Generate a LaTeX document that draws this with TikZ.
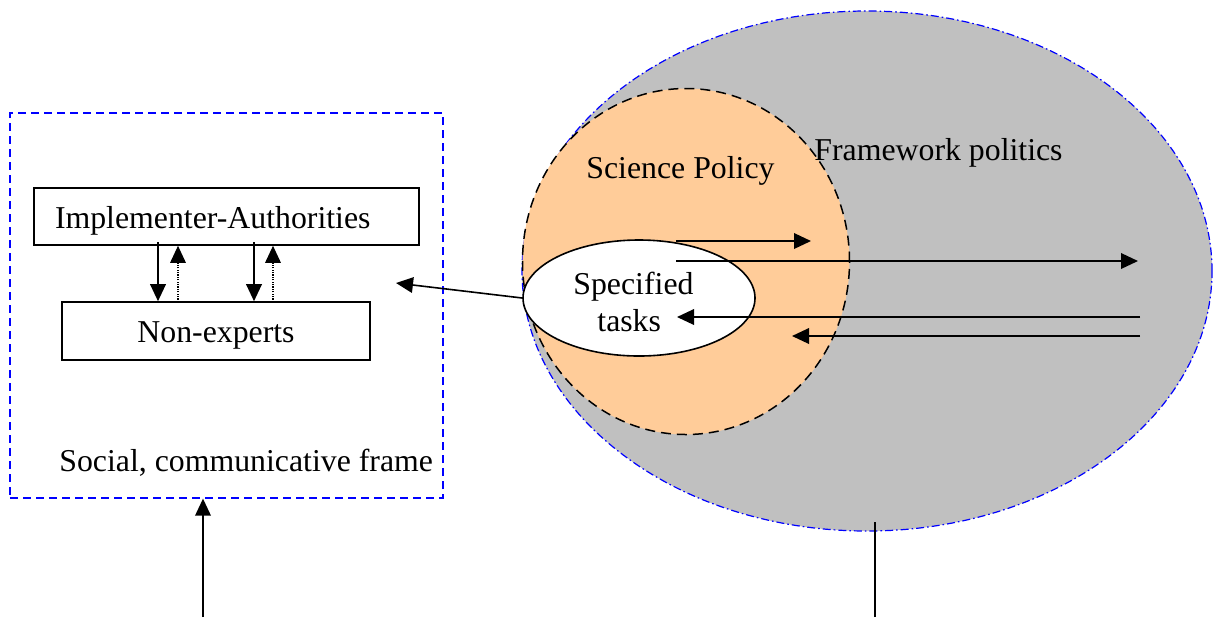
\documentclass[tikz,border=0pt]{standalone}
\usepackage{fontspec}
\setmainfont{Liberation Serif}
\usetikzlibrary{arrows.meta,shapes.geometric}

\definecolor{policyorange}{RGB}{255,204,153}
\definecolor{politicsgray}{RGB}{192,192,192}

\tikzset{
  lbl/.style={font=\fontsize{15.9}{19}\selectfont, inner sep=0pt, anchor=base west},
  frameline/.style={draw=blue, line width=0.65pt, dash pattern=on 4pt off 2.5pt},
  actorbox/.style={draw, line width=0.8pt, rectangle, inner sep=0pt,
                   font=\fontsize{15.9}{19}\selectfont},
  arr/.style={line width=0.8pt, -{Triangle[length=8.5pt,width=7.8pt]}},
  dotarr/.style={line width=0.6pt, dash pattern=on 0.6pt off 0.6pt,
                 -{Triangle[length=8.5pt,width=7.8pt]}},
  plainline/.style={line width=0.8pt}
}

\begin{document}
\begin{tikzpicture}[x=0.5pt,y=-0.5pt]
\useasboundingbox (0,0) rectangle (1213,617);

% social, communicative frame
\node[frameline, rectangle, inner sep=0pt, minimum width=216.5pt,
      minimum height=192.5pt] (frame) at (226.5,305.5) {};
\node[lbl] (framelbl) at (59,471.5) {Social, communicative frame};

% actors
\node[actorbox, minimum width=192.5pt, minimum height=28.5pt,
      text width=171.5pt, align=left, text height=12pt, text depth=0.5pt]
      (impl) at (226.5,216.5) {Implementer-Authorities};
\node[actorbox, minimum width=154pt, minimum height=29pt,
      text height=11.5pt, text depth=0.5pt]
      (nonexp) at (216,331) {Non-experts};

% exchanges between authorities and non-experts
\coordinate (down1) at (158,242);
\coordinate (down2) at (254,242);
\coordinate (up1) at (178,302);
\coordinate (up2) at (273,302);
\draw[arr] (down1) -- (down1 |- nonexp.north);
\draw[arr] (down2) -- (down2 |- nonexp.north);
\draw[dotarr] (up1) -- (up1 |- impl.south);
\draw[dotarr] (up2) -- (up2 |- impl.south);

% framework politics and science policy
\node[ellipse, fill=politicsgray, draw=blue, line width=0.6pt,
      dash pattern=on 4pt off 1.5pt on 0.8pt off 1.5pt,
      inner sep=0pt, minimum width=345pt, minimum height=260pt]
      (politics) at (867,271) {};
\node[ellipse, fill=policyorange, draw=black, line width=0.75pt,
      dash pattern=on 5pt off 3pt,
      inner sep=0pt, minimum width=163.5pt, minimum height=173pt]
      (policy) at (686,261.5) {};
\node[ellipse, fill=white, draw=black, line width=0.8pt,
      inner sep=0pt, minimum width=116pt, minimum height=58pt]
      (spec) at (639,298) {};

\node[lbl] (policylbl) at (586,178) {Science Policy};
\node[lbl] (politicslbl) at (814,160) {Framework politics};
\node[lbl] (speclbl) at (573,294) {Specified};
\node[lbl] (tasklbl) at (597,331) {tasks};

% flows between specified tasks and the surrounding frames
\coordinate (outA) at (676,241);
\coordinate (outAend) at (811,241);
\coordinate (outB) at (676,261);
\coordinate (outBend) at (1138,261);
\coordinate (inA) at (1140,317);
\coordinate (inAend) at (677,317);
\coordinate (inB) at (1140,336);
\coordinate (inBend) at (792,336);
\draw[arr] (outA) -- (outAend);
\draw[arr] (outB) -- (outBend);
\draw[arr] (inA) -- (inAend);
\draw[arr] (inB) -- (inBend);

% specified tasks feed the social frame
\coordinate (frameentry) at (396,283);
\draw[arr] (spec.west) -- (frameentry);

% links leaving the bottom
\coordinate (socialbase) at (203,617);
\draw[arr] (socialbase) -- (socialbase |- frame.south);
\coordinate (politicsbase) at (875,617);
\coordinate (politicstop) at (875,522);
\draw[plainline] (politicsbase) -- (politicstop);
\end{tikzpicture}
\end{document}
